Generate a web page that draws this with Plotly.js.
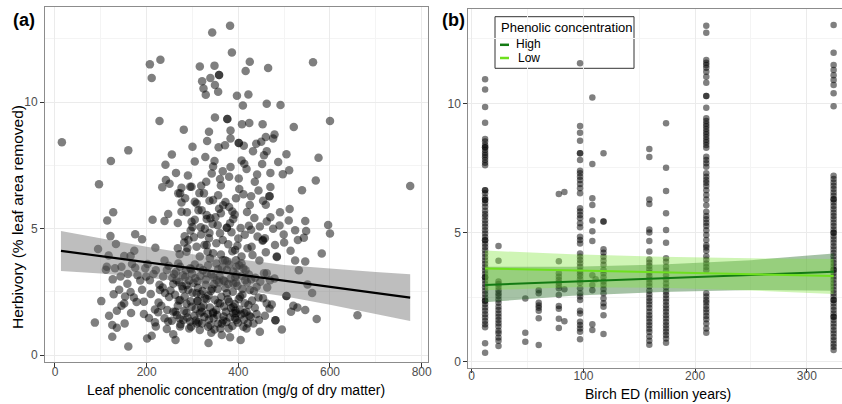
<!DOCTYPE html>
<html><head><meta charset="utf-8">
<script src="https://cdn.plot.ly/plotly-3.0.1.min.js"></script>
<style>html,body{margin:0;padding:0;background:#fff;overflow:hidden}#chart{width:842px;height:404px}</style>
</head><body><div id="chart"></div>
<script>
// ---------- Panel (a) data: leaf phenolic concentration vs herbivory ----------
const phenolic = [382,343,386,207,230,211,316,348,358,358,339,321,324,349,329,356,425,416,465,397,422,410,462,492,600,563,228,349,376,376,383,408,424,453,281,336,479,521,15,383,401,401,460,476,332,357,300,371,439,412,450,160,255,432,456,462,505,328,348,407,413,487,575,122,241,383,441,497,511,342,366,360,242,250,401,569,775,96,234,276,295,319,325,356,402,411,428,444,468,468,470,539,273,305,276,337,367,380,425,454,460,491,512,288,313,320,331,350,362,387,247,127,114,213,239,268,300,327,339,355,375,375,389,423,462,476,510,524,546,548,543,596,600,175,190,121,283,303,319,337,400,442,453,499,133,173,94,219,268,289,309,333,362,387,420,431,460,484,582,117,151,165,202,239,272,338,366,380,395,407,446,524,546,113,131,111,145,175,197,220,248,273,297,316,356,411,456,532,126,159,180,199,260,284,306,346,367,393,428,479,551,140,165,190,209,235,258,279,300,322,340,355,378,409,434,463,561,153,101,151,172,194,226,249,270,287,311,311,331,356,380,401,422,444,473,505,505,529,520,135,166,194,225,263,287,316,345,373,395,413,440,468,515,546,205,239,272,307,336,367,393,481,481,571,660,87,152,218,247,295,321,356,421,125,135,220,244,273,293,316,348,379,418,447,495,125,201,211,258,263,341,364,382,405,335,160,
265,287,309,327,273,298,320,345,360,375,389,280,258,309,334,364,389,229,207,244,269,295,331,353,375,396,287,316,345,371,291,331,360,382,298,331,276,309,345,269,298,396,415,425,404,389,418,440,454,396,433,469,407,429,454,484,462,393,462,411,
252,262,268,277,283,291,296,302,307,312,318,324,329,335,338,343,349,352,358,363,369,372,377,384,388,392,398,403,409,414,419,424,430,436,
256,264,271,279,286,293,299,305,311,317,323,329,334,341,347,352,359,364,370,376,383,389,395,402,408,416,423,437,448,
255,266,274,282,289,297,304,313,319,326,333,339,346,354,361,368,374,381,387,394,399,406,412,427,445,458,
240,232,236,245,228,215,218,186,178,168,158,145,143,128,118,
282,296,305,318,326,336,344,352,358,366,372,378,385,392,398,405,414,419,428,435,447,458,470,480,490,500,514,530,
315,330,345,362,380,395,418,436,452,470,290,305,264,284];
const herbivoryA = [13.02,12.75,11.96,11.49,11.67,10.95,11.41,11.44,11.07,11.07,10.95,10.82,10.54,10.67,10.29,10.41,11.59,11.23,11.35,10.25,10.30,9.86,9.93,9.88,9.25,11.57,9.25,9.39,9.33,9.33,8.88,9.12,9.17,9.12,8.91,8.83,8.72,9.01,8.41,8.56,8.38,8.38,8.62,8.56,8.46,8.21,8.23,8.29,8.35,8.27,8.43,8.09,7.93,8.06,7.90,8.06,7.94,7.83,7.67,7.69,7.56,7.63,7.80,7.67,7.52,7.43,7.14,7.15,7.30,7.18,7.26,6.96,6.92,6.77,6.98,6.90,6.68,6.75,6.63,6.61,6.65,6.69,6.39,6.32,6.56,6.36,6.28,6.50,6.28,6.28,6.64,6.51,6.39,6.06,6.03,6.10,5.92,5.85,5.93,6.10,5.94,5.64,5.77,5.64,5.72,5.72,5.38,5.45,5.60,5.67,5.57,5.64,5.32,5.35,5.30,5.22,5.06,4.99,5.41,5.13,5.03,5.03,5.38,5.11,5.28,4.99,5.32,4.93,5.30,4.90,4.64,5.14,4.80,4.77,4.58,4.70,4.69,4.66,4.76,4.82,4.61,4.68,4.52,4.76,4.39,4.12,4.19,4.24,4.22,4.23,4.28,4.08,3.97,4.10,4.22,3.95,4.06,3.87,4.01,3.93,3.91,3.91,3.60,3.74,3.98,3.82,3.75,3.58,3.75,3.62,3.74,3.74,3.70,3.49,3.43,3.37,3.49,3.45,3.43,3.35,3.53,3.49,3.39,3.45,3.39,3.43,3.23,3.35,2.99,3.20,3.15,3.10,3.20,3.08,3.03,3.07,2.96,3.07,2.99,3.02,2.79,2.58,2.49,2.58,2.41,2.67,2.82,2.60,2.46,2.53,2.53,2.61,2.81,2.61,2.53,2.67,2.45,2.31,2.13,2.04,2.27,2.11,2.08,2.29,2.15,2.03,2.13,2.13,2.21,2.06,2.11,2.21,1.98,2.27,2.00,2.33,2.33,1.88,1.95,1.75,1.66,1.62,1.69,1.71,1.67,1.65,1.69,1.71,1.65,1.66,1.62,1.84,1.71,1.78,1.46,1.45,1.44,1.36,1.40,1.36,1.46,1.37,1.37,1.42,1.57,1.28,1.25,1.29,1.32,1.32,1.25,1.25,1.25,1.19,1.08,1.13,1.03,1.13,1.05,0.99,1.01,1.05,1.05,0.92,1.01,0.72,0.65,0.76,0.82,0.59,0.88,0.79,0.70,0.59,0.47,0.34,
2.96,2.77,2.44,2.24,2.17,1.91,1.71,1.65,2.04,2.44,2.83,1.38,1.71,1.25,1.12,1.25,1.65,2.57,2.96,3.36,3.62,3.43,3.23,2.96,3.36,3.16,4.08,3.89,4.02,3.75,4.55,4.35,4.81,5.21,5.27,5.53,5.66,5.99,6.13,6.39,6.65,3.49,2.96,2.57,2.30,1.91,1.71,2.70,2.24,1.38,1.25,2.96,3.89,4.28,4.55,3.89,3.23,4.15,2.04,1.12,
2.55,2.38,1.95,2.72,2.31,2.58,2.12,2.85,1.82,2.66,2.40,1.95,2.78,2.35,1.88,2.62,2.18,1.78,2.88,2.30,1.92,2.65,2.20,1.86,2.50,2.02,2.74,1.80,2.38,2.05,2.87,1.55,2.15,1.87,
3.05,3.28,2.88,3.15,3.35,2.95,3.22,3.58,2.92,3.12,3.35,2.98,3.55,3.18,2.80,3.62,3.12,3.45,2.92,3.70,3.02,3.30,2.86,3.55,3.12,3.35,3.18,3.05,2.90,
1.35,1.58,1.22,1.75,1.48,1.12,1.55,1.30,1.88,1.50,1.62,1.18,1.45,1.58,1.05,1.52,1.30,1.48,1.15,1.75,1.28,1.60,1.40,1.50,1.38,1.55,
2.45,1.95,3.10,1.78,2.78,3.20,1.80,2.95,2.10,3.60,2.82,1.95,3.10,2.40,1.55,
4.45,4.92,5.35,5.05,4.35,4.62,5.18,4.42,5.78,4.55,6.05,4.38,4.85,5.55,4.32,5.02,4.75,5.65,4.95,5.42,5.08,4.62,5.45,4.35,5.12,4.45,4.12,4.55,
6.40,6.85,7.45,6.70,7.05,6.20,7.35,6.85,7.55,7.20,7.10,7.65,7.20,6.20];
// fitted line and confidence band
const fitAX = [13, 100, 200, 300, 400, 500, 600, 700, 775];
const fitAY = [4.12, 3.91, 3.67, 3.42, 3.18, 2.94, 2.70, 2.45, 2.27];
const fitAUp = [4.90, 4.60, 4.28, 3.98, 3.79, 3.56, 3.41, 3.28, 3.19];
const fitALo = [3.32, 3.22, 3.06, 2.86, 2.59, 2.32, 1.99, 1.62, 1.34];

// ---------- Panel (b) data: Birch ED vs herbivory ----------
const birchED = [12, 24, 48, 60, 78, 83, 97, 108, 111, 118, 159, 174, 210, 324];
const herbivoryByED = [
  [10.93,10.54,9.86,9.25,8.62,8.52,8.39,8.30,8.30,8.19,8.09,8.00,7.91,7.81,7.70,7.60,6.64,6.64,6.52,6.36,6.26,6.26,6.13,6.00,5.84,5.72,5.61,5.48,5.35,5.22,5.09,4.96,4.83,4.70,4.70,4.57,4.44,4.31,4.18,4.05,3.92,3.79,3.66,3.53,3.40,3.27,3.27,3.14,3.01,2.88,2.75,2.62,2.49,2.36,2.36,2.23,2.10,1.97,1.84,1.71,1.58,1.45,1.33,0.71,0.35],
  [4.48,3.91,3.10,3.01,2.90,2.77,2.65,2.54,2.41,2.28,2.13,2.00,1.87,1.74,1.61,1.49,1.36,1.20,1.10,0.94,0.81,0.61],
  [2.45,1.12,0.77],
  [2.77,2.65,2.28,2.18,2.09,1.97,1.68,0.65],
  [6.49,3.89,3.42,3.29,3.16,3.06,2.95,2.84,2.58,2.16,2.05,1.66,1.30],
  [6.57,2.80,1.57],
  [11.55,9.12,8.86,8.55,8.07,8.07,7.81,7.39,7.29,7.16,7.03,6.88,6.71,6.52,5.94,5.81,5.68,5.55,5.36,5.20,4.84,4.71,4.58,4.19,4.06,3.94,3.81,3.68,3.52,3.42,3.32,3.19,3.06,2.84,2.65,2.52,2.39,1.97,1.87,1.55,1.42,1.29,1.16,0.87],
  [10.23,7.65,6.33,6.07,5.47,5.05,4.67,3.35,2.97,2.77,1.45,1.23],
  [3.19],
  [8.07,5.43,5.43,4.35,4.22,4.06,3.91,3.75,3.55,3.42,3.27,3.10,2.97,2.81,2.65,2.45,2.26,2.13,1.80,1.07],
  [8.23,7.92,6.28,6.10,5.12,5.00,4.67,4.27,3.96,3.83,3.70,3.57,3.44,3.31,3.18,3.05,2.92,2.75,2.60,2.47,2.34,2.21,2.08,1.93,1.80,1.67,1.54,1.41,1.28,1.15,0.98,0.81,0.66],
  [9.23,7.51,6.61,5.75,5.10,4.60,4.00,3.87,3.68,3.52,3.35,3.19,3.03,2.88,2.71,2.58,2.45,2.32,2.19,2.06,1.93,1.80,1.67,1.54,1.41,1.29,1.16,1.03,0.90,0.73],
  [13.0,12.73,11.68,11.57,11.48,11.38,11.22,11.03,10.80,10.28,10.28,9.83,9.42,9.32,9.21,9.11,9.01,8.90,8.80,8.70,8.59,8.49,8.39,8.28,7.93,7.81,7.68,7.55,7.29,7.16,7.03,6.93,6.80,6.64,6.45,6.28,6.06,5.80,5.64,5.51,5.38,5.25,5.09,4.90,4.71,4.51,4.42,4.29,4.08,3.95,3.80,3.67,3.54,2.65,2.52,2.39,2.29,2.16,2.03,1.90,1.77,1.64,1.48,1.29,1.12],
  [13.03,11.96,11.48,11.29,11.09,10.90,10.71,10.39,9.89,7.20,7.07,6.94,6.81,6.68,6.55,6.42,6.29,6.29,6.16,6.03,5.90,5.77,5.64,5.51,5.38,5.25,5.12,4.99,4.99,4.86,4.73,4.60,4.47,4.34,4.21,4.08,3.95,3.82,3.69,3.56,3.56,3.43,3.30,3.17,3.04,2.91,2.78,2.65,2.52,2.39,2.39,2.26,2.13,2.00,1.87,1.74,1.74,1.61,1.48,1.35,1.22,1.09,0.96,0.83,0.70,0.58,0.45]
];
const fitBX = [12, 90, 170, 250, 324];
const highY = [2.97, 3.10, 3.23, 3.36, 3.48];
const highUp = [3.68, 3.68, 3.76, 3.93, 4.19];
const highLo = [2.30, 2.55, 2.70, 2.78, 2.75];
const lowY = [3.61, 3.54, 3.46, 3.39, 3.32];
const lowUp = [4.30, 4.16, 4.06, 4.00, 3.98];
const lowLo = [2.77, 2.88, 2.86, 2.76, 2.62];
const groupNames = ['High', 'Low'];
const legendTitle = 'Phenolic concentration';
const xTitleA = 'Leaf phenolic concentration (mg/g of dry matter)';
const yTitleA = 'Herbivory (% leaf area removed)';
const xTitleB = 'Birch ED (million years)';

// ---------- build ----------
const W = 842, H = 404;
const px = v => v / W, py = v => 1 - v / H;
const FONT = 'Liberation Sans, Arial, Helvetica, sans-serif';
const HIGH_COL = '#137a13', LOW_COL = '#6ee01e';

const bx = [], by = [];
birchED.forEach((ed, i) => herbivoryByED[i].forEach(v => { bx.push(ed); by.push(v); }));

const traces = [
  {x: phenolic, y: herbivoryA, type: 'scatter', mode: 'markers', xaxis: 'x', yaxis: 'y',
   marker: {size: 8.5, color: 'rgba(0,0,0,0.5)', line: {width: 0}}, hoverinfo: 'skip'},
  {x: fitAX, y: fitALo, type: 'scatter', mode: 'lines', line: {width: 0, color: 'rgba(0,0,0,0)'}, xaxis: 'x', yaxis: 'y', hoverinfo: 'skip'},
  {x: fitAX, y: fitAUp, type: 'scatter', mode: 'lines', line: {width: 0, color: 'rgba(0,0,0,0)'}, fill: 'tonexty', fillcolor: 'rgba(110,110,110,0.45)', xaxis: 'x', yaxis: 'y', hoverinfo: 'skip'},
  {x: fitAX, y: fitAY, type: 'scatter', mode: 'lines', line: {width: 2.2, color: '#000'}, xaxis: 'x', yaxis: 'y'},

  {x: bx, y: by, type: 'scatter', mode: 'markers', xaxis: 'x2', yaxis: 'y2',
   marker: {size: 6.5, color: 'rgba(0,0,0,0.5)', line: {width: 0}}, hoverinfo: 'skip'},
  {x: fitBX, y: highLo, type: 'scatter', mode: 'lines', line: {width: 0, color: 'rgba(0,0,0,0)'}, xaxis: 'x2', yaxis: 'y2', hoverinfo: 'skip'},
  {x: fitBX, y: highUp, type: 'scatter', mode: 'lines', line: {width: 0, color: 'rgba(0,0,0,0)'}, fill: 'tonexty', fillcolor: 'rgba(40,110,40,0.42)', xaxis: 'x2', yaxis: 'y2', hoverinfo: 'skip'},
  {x: fitBX, y: lowLo, type: 'scatter', mode: 'lines', line: {width: 0, color: 'rgba(0,0,0,0)'}, xaxis: 'x2', yaxis: 'y2', hoverinfo: 'skip'},
  {x: fitBX, y: lowUp, type: 'scatter', mode: 'lines', line: {width: 0, color: 'rgba(0,0,0,0)'}, fill: 'tonexty', fillcolor: 'rgba(130,230,60,0.38)', xaxis: 'x2', yaxis: 'y2', hoverinfo: 'skip'},
  {x: fitBX, y: highY, name: groupNames[0], type: 'scatter', mode: 'lines', line: {width: 2, color: HIGH_COL}, xaxis: 'x2', yaxis: 'y2'},
  {x: fitBX, y: lowY, name: groupNames[1], type: 'scatter', mode: 'lines', line: {width: 2, color: LOW_COL}, xaxis: 'x2', yaxis: 'y2'}
];

const axisBase = {
  ticks: 'outside', ticklen: 4, tickwidth: 1, tickcolor: '#333',
  tickfont: {family: FONT, size: 12, color: '#4d4d4d'},
  showline: true, mirror: true, linecolor: '#8c8c8c', linewidth: 1,
  showgrid: true, gridcolor: '#ebebeb', gridwidth: 1, zeroline: false, fixedrange: true
};

const ann = (text, x, y, size, extra) => Object.assign({text, xref: 'paper', yref: 'paper', x: px(x), y: py(y),
  xanchor: 'left', yanchor: 'middle', showarrow: false, font: {family: FONT, size, color: '#000'}}, extra || {});

const layout = {
  width: W, height: H, margin: {l: 0, r: 0, t: 0, b: 0},
  paper_bgcolor: '#fff', plot_bgcolor: '#fff', showlegend: false,
  font: {family: FONT, color: '#000'},
  xaxis: Object.assign({}, axisBase, {domain: [px(45), px(427.7)], range: [-21.8, 813.2], tick0: 0, dtick: 200, anchor: 'y',
    ticklabelstandoff: -5, minor: {dtick: 100, showgrid: true, gridcolor: '#f4f4f4', ticks: ''}}),
  yaxis: Object.assign({}, axisBase, {domain: [py(361.7), py(6.7)], range: [-0.265, 13.77], tick0: 0, dtick: 5, anchor: 'x',
    minor: {dtick: 2.5, showgrid: true, gridcolor: '#f4f4f4', ticks: ''}}),
  xaxis2: Object.assign({}, axisBase, {domain: [px(468.3), 1], range: [-3.04, 331.5], tick0: 0, dtick: 100, anchor: 'y2',
    ticklabelstandoff: -8, minor: {dtick: 50, showgrid: true, gridcolor: '#f4f4f4', ticks: ''}}),
  yaxis2: Object.assign({}, axisBase, {domain: [py(368.3), py(9.3)], range: [-0.255, 13.64], tick0: 0, dtick: 5, anchor: 'x2',
    minor: {dtick: 2.5, showgrid: true, gridcolor: '#f4f4f4', ticks: ''}}),
  shapes: [
    {type: 'rect', xref: 'paper', yref: 'paper', x0: px(495), x1: px(634), y0: py(68.3), y1: py(16.7),
     line: {color: '#333', width: 1}, fillcolor: '#fff', layer: 'between'},
    {type: 'line', xref: 'paper', yref: 'paper', x0: px(500), x1: px(509), y0: py(44.8), y1: py(44.8), line: {color: HIGH_COL, width: 2.5}},
    {type: 'line', xref: 'paper', yref: 'paper', x0: px(500), x1: px(509), y0: py(58), y1: py(58), line: {color: LOW_COL, width: 2.5}}
  ],
  annotations: [
    ann('<b>(a)</b>', 11, 20, 18),
    ann('<b>(b)</b>', 440, 20, 18),
    ann(xTitleA, 236, 390, 14, {xanchor: 'center'}),
    ann(xTitleB, 658, 394, 14, {xanchor: 'center'}),
    ann(yTitleA, 17, 217, 15.5, {xanchor: 'center', textangle: -90}),
    ann(legendTitle, 499, 27.5, 13),
    ann(groupNames[0], 514, 44.5, 12),
    ann(groupNames[1], 516, 58, 12)
  ]
};

Plotly.newPlot('chart', traces, layout, {staticPlot: true, displayModeBar: false});
</script>
</body></html>
